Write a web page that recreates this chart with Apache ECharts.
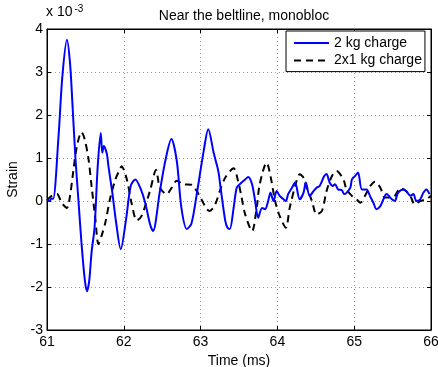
<!DOCTYPE html>
<html><head><meta charset="utf-8">
<script src="https://cdn.jsdelivr.net/npm/echarts@6/dist/echarts.min.js"></script>
<style>html,body{margin:0;padding:0;background:#fff}#c{width:438px;height:367px}</style>
</head><body><div id="c"></div>
<script>
const xTicks = [61, 62, 63, 64, 65, 66];
const yTicks = [-3, -2, -1, 0, 1, 2, 3, 4];
const seriesNames = ['2 kg charge', '2x1 kg charge'];

const timeA = [61.00,61.03,61.06,61.08,61.15,61.20,61.26,61.30,61.33,61.37,61.41,61.45,61.49,61.52,61.55,61.58,61.62,61.66,61.70,61.72,61.74,61.78,61.80,61.85,61.90,61.96,62.03,62.09,62.15,62.22,62.28,62.34,62.38,62.47,62.54,62.62,62.69,62.75,62.82,62.88,62.95,63.04,63.10,63.17,63.23,63.26,63.32,63.35,63.38,63.43,63.47,63.51,63.58,63.62,63.67,63.71,63.75,63.80,63.84,63.88,63.91,63.95,63.99,64.03,64.08,64.11,64.14,64.19,64.23,64.29,64.34,64.37,64.42,64.47,64.51,64.55,64.61,64.64,64.68,64.72,64.75,64.79,64.84,64.87,64.90,64.95,64.97,65.01,65.05,65.10,65.16,65.21,65.25,65.29,65.34,65.38,65.42,65.49,65.53,65.57,65.64,65.68,65.73,65.77,65.81,65.86,65.90,65.94,65.98];
const strainA = [0.02,0.00,0.06,0.05,1.50,2.90,3.75,3.20,2.30,1.00,0.00,-1.00,-1.80,-2.10,-1.85,-1.20,-0.60,0.80,1.58,1.12,1.28,1.09,0.81,0.20,-0.50,-1.12,-0.42,0.35,0.50,0.28,-0.05,-0.53,-0.70,0.23,0.93,1.44,0.93,-0.16,-0.65,-0.53,0.16,1.16,1.67,1.12,0.70,0.31,-0.45,-0.62,-0.65,-0.16,0.31,0.39,0.50,0.56,0.39,0.00,-0.39,-0.16,-0.19,0.00,0.19,0.00,0.23,0.12,0.04,0.00,0.16,0.31,0.43,0.04,0.19,0.43,0.12,0.23,0.31,0.35,0.58,0.63,0.43,0.35,0.39,0.27,0.25,0.16,0.19,0.31,0.50,0.58,0.66,0.27,0.27,0.10,-0.04,-0.19,-0.12,0.04,0.16,0.04,0.00,0.19,0.27,0.23,0.12,0.16,0.00,0.04,0.19,0.27,0.16];

const timeB = [61.00,61.06,61.13,61.19,61.26,61.30,61.34,61.39,61.45,61.49,61.54,61.58,61.63,61.67,61.71,61.76,61.82,61.89,61.95,61.97,62.04,62.10,62.17,62.23,62.34,62.42,62.47,62.56,62.62,62.69,62.77,62.88,62.95,63.01,63.08,63.12,63.19,63.25,63.32,63.43,63.49,63.53,63.58,63.67,63.73,63.77,63.86,63.91,63.97,64.03,64.11,64.16,64.25,64.29,64.34,64.38,64.45,64.51,64.58,64.64,64.71,64.77,64.86,64.90,64.97,65.03,65.08,65.14,65.21,65.27,65.34,65.40,65.47,65.53,65.60,65.66,65.73,65.79,65.86,65.94,66.00];
const strainB = [0.02,0.12,0.16,-0.04,-0.16,0.12,0.66,1.28,1.60,1.44,0.98,0.35,-0.42,-1.00,-0.81,-0.50,0.04,0.50,0.74,0.81,0.50,-0.04,-0.45,-0.35,0.23,0.72,0.31,0.16,0.30,0.47,0.39,0.38,0.23,0.04,-0.19,-0.23,-0.08,0.23,0.54,0.76,0.45,0.12,-0.31,-0.70,-0.16,0.39,0.89,0.58,0.00,-0.35,-0.62,-0.16,0.47,0.62,0.54,0.31,0.00,-0.31,-0.23,0.23,0.58,0.70,0.50,0.27,0.12,0.04,-0.04,0.12,0.35,0.45,0.31,0.08,0.08,0.12,0.30,0.25,0.12,-0.08,0.00,0.04,0.12];

const dataA = timeA.map((t, i) => [t, strainA[i]]);
const dataB = timeB.map((t, i) => [t, strainB[i]]);

const FONT = 'Liberation Sans';
const FS = 14;
const chart = echarts.init(document.getElementById('c'), null, {renderer: 'canvas'});
const splitDotted = {show: true, lineStyle: {color: '#9a9a9a', type: [1, 3], width: 1}};
const tickIn = {show: true, inside: true, length: 4, lineStyle: {color: '#000'}};
chart.setOption({
  animation: false,
  backgroundColor: '#fff',
  textStyle: {fontFamily: FONT},
  title: {text: 'Near the beltline, monobloc', left: 239, textAlign: 'center', top: 4,
    textStyle: {fontFamily: FONT, fontSize: FS, fontWeight: 'normal', color: '#000'}},
  grid: {left: 47, right: 7, top: 29, bottom: 37, containLabel: false, outerBoundsMode: 'none',
    show: true, borderColor: '#000', borderWidth: 1, backgroundColor: '#fff'},
  legend: {
    orient: 'vertical', left: 286, top: 31, data: seriesNames,
    backgroundColor: '#fff', borderColor: '#000', borderWidth: 1,
    padding: [5, 3, 4, 7], itemGap: 3.6, itemWidth: 35, itemHeight: 14,
    itemStyle: {color: 'rgba(0,0,0,0)', borderWidth: 0, opacity: 0},
    textStyle: {fontFamily: FONT, fontSize: FS, color: '#000'}
  },
  graphic: [{
    type: 'text', left: 46, top: 4,
    style: {text: '{a|x 10}{b|-3}', rich: {
      a: {fontFamily: FONT, fontSize: FS, fill: '#000', padding: [7, 0, 0, 0]},
      b: {fontFamily: FONT, fontSize: 10, fill: '#000', padding: [0, 0, 0, 2]}
    }}
  }],
  xAxis: [{
    type: 'value', min: 61, max: 66, interval: 1,
    name: 'Time (ms)', nameLocation: 'middle', nameGap: 21,
    nameTextStyle: {fontFamily: FONT, fontSize: FS, color: '#000'},
    axisLine: {show: true, onZero: false, lineStyle: {color: '#000', width: 1}},
    axisTick: tickIn,
    axisLabel: {fontFamily: FONT, fontSize: FS, color: '#000', margin: 5,
      formatter: v => xTicks.includes(v) ? String(v) : ''},
    splitLine: splitDotted
  }, {
    type: 'value', min: 61, max: 66, interval: 1, position: 'top',
    axisLine: {show: true, onZero: false, lineStyle: {color: '#000'}},
    axisTick: tickIn, axisLabel: {show: false}, splitLine: {show: false}
  }],
  yAxis: [{
    type: 'value', min: -3, max: 4, interval: 1,
    name: 'Strain', nameLocation: 'middle', nameGap: 24, nameRotate: 90,
    nameTextStyle: {fontFamily: FONT, fontSize: FS, color: '#000'},
    axisLine: {show: true, onZero: false, lineStyle: {color: '#000', width: 1}},
    axisTick: tickIn,
    axisLabel: {fontFamily: FONT, fontSize: FS, color: '#000', margin: 4,
      formatter: v => yTicks.includes(v) ? String(v) : ''},
    splitLine: splitDotted
  }, {
    type: 'value', min: -3, max: 4, interval: 1, position: 'right',
    axisLine: {show: true, onZero: false, lineStyle: {color: '#000'}},
    axisTick: tickIn, axisLabel: {show: false}, splitLine: {show: false}
  }],
  series: [{
    name: seriesNames[0], type: 'line', data: dataA, xAxisIndex: 0, yAxisIndex: 0,
    showSymbol: false, symbol: 'none', smooth: 0.3,
    lineStyle: {color: '#0000ff', width: 2}, itemStyle: {color: '#0000ff'}, z: 3
  }, {
    name: seriesNames[1], type: 'line', data: dataB, xAxisIndex: 0, yAxisIndex: 0,
    showSymbol: false, symbol: 'none', smooth: 0.3,
    lineStyle: {color: '#000', width: 2, type: [7, 5]}, itemStyle: {color: '#000'}, z: 2
  }]
});
</script></body></html>
